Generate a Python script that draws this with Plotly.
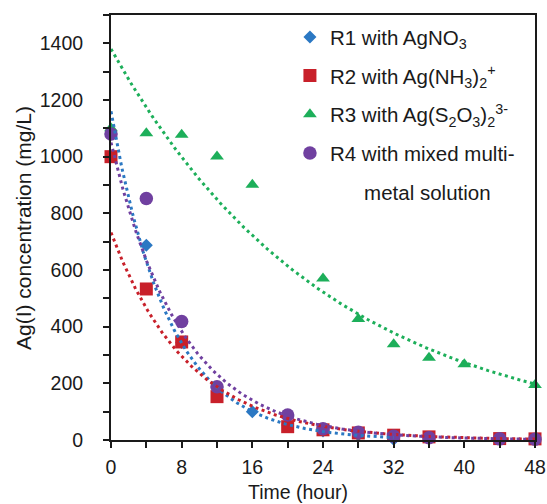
import numpy as np
import plotly.graph_objects as go

# ---- data ----
t_r1 = [0, 4, 8, 12, 16, 20, 24, 28, 32]
c_r1 = [1080, 687, 344, 185, 100, 53, 32, 18, 3]

t_r2 = [0, 4, 8, 12, 20, 24, 28, 32, 36, 44, 48]
c_r2 = [1000, 533, 346, 153, 47, 36, 25, 17, 11, 5, 4]

t_r3 = [0, 4, 8, 12, 16, 24, 28, 32, 36, 40, 48]
c_r3 = [1100, 1083, 1077, 1001, 901, 570, 427, 338, 290, 267, 194]

t_r4 = [0, 4, 8, 12, 20, 24, 28, 32, 36, 44, 48]
c_r4 = [1080, 852, 418, 188, 88, 40, 27, 13, 8, 4, 3]

series_names = [
    "R1 with AgNO<sub>3</sub>",
    "R2 with Ag(NH<sub>3</sub>)<sub>2</sub><sup>+</sup>",
    "R3 with Ag(S<sub>2</sub>O<sub>3</sub>)<sub>2</sub><sup>3-</sup>",
    "R4 with mixed multi-",
]
legend_cont = "\u00a0\u00a0\u00a0\u00a0\u00a0\u00a0metal solution"

# exponential trendline coefficients, y = a * exp(-k * t)
fit_a = [1160, 732, 1380, 1050]
fit_k = [0.153, 0.1135, 0.0405, 0.126]
fit_end = [32, 48, 48, 48]

x_ticks = [0, 8, 16, 24, 32, 40, 48]
x_minor = [4, 12, 20, 28, 36, 44]
y_ticks = [0, 200, 400, 600, 800, 1000, 1200, 1400]
y_minor = [100, 300, 500, 700, 900, 1100, 1300, 1500]

colors = ["#2B78C3", "#C8202A", "#1DAF5A", "#7040A0"]
symbols = ["diamond", "square", "triangle-up", "circle"]
sizes = [10, 13, 12, 13.5]

FONT = "Liberation Sans, Arial, sans-serif"
INK = "#1a1a1a"

fig = go.Figure()

ts = [t_r1, t_r2, t_r3, t_r4]
cs = [c_r1, c_r2, c_r3, c_r4]

for i in range(4):
    fig.add_trace(go.Scatter(
        x=ts[i], y=cs[i], mode="markers", name=series_names[i],
        legendgroup=f"g{i}",
        marker=dict(symbol=symbols[i], size=sizes[i], color=colors[i],
                    line=dict(width=0)),
        cliponaxis=False,
    ))

# legend continuation line for R4
fig.add_trace(go.Scatter(
    x=[None], y=[None], mode="markers", name=legend_cont, legendgroup="g4",
    marker=dict(size=1, color="rgba(0,0,0,0)"), hoverinfo="skip",
))

for i in range(4):
    tt = np.linspace(0, fit_end[i], 300)
    yy = fit_a[i] * np.exp(-fit_k[i] * tt)
    fig.add_trace(go.Scatter(
        x=tt, y=yy, mode="lines", showlegend=False, hoverinfo="skip",
        line=dict(color=colors[i], width=3, dash="3px,3.5px"),
    ))

tickfont = dict(size=19.5, family=FONT, color=INK)

fig.update_layout(
    width=547, height=504,
    margin=dict(l=111, r=12, t=15, b=64, autoexpand=False),
    paper_bgcolor="white", plot_bgcolor="white",
    font=dict(family=FONT, size=20, color=INK),
    legend=dict(
        x=0.422, y=0.995, xanchor="left", yanchor="top",
        bgcolor="rgba(0,0,0,0)", font=dict(size=20.5, family=FONT, color=INK),
        tracegroupgap=9, valign="middle",
    ),
    xaxis=dict(
        range=[0, 48], tickmode="array", tickvals=x_ticks,
        ticks="outside", ticklen=6, tickwidth=1.5, tickcolor=INK,
        showline=True, linewidth=2, linecolor=INK, mirror=True,
        showgrid=False, zeroline=False,
        minor=dict(tickvals=x_minor, ticks="outside",
                   ticklen=6, tickwidth=1.5, tickcolor=INK, showgrid=False),
        tickfont=tickfont, ticklabelstandoff=3,
    ),
    yaxis=dict(
        range=[0, 1500], tickmode="array", tickvals=y_ticks,
        ticks="outside", ticklen=6, tickwidth=1.5, tickcolor=INK,
        showline=True, linewidth=2, linecolor=INK, mirror=True,
        showgrid=False, zeroline=False,
        minor=dict(tickvals=y_minor, ticks="outside", ticklen=6,
                   tickwidth=1.5, tickcolor=INK, showgrid=False),
        tickfont=tickfont, ticklabelstandoff=16,
    ),
    annotations=[
        dict(text="Time (hour)", xref="paper", yref="paper",
             x=(298 - 111) / 424, y=(440 - 492) / 425,
             xanchor="center", yanchor="middle",
             showarrow=False, font=dict(size=19.5, family=FONT, color=INK)),
        dict(text="Ag(I) concentration (mg/L)", xref="paper", yref="paper",
             x=(23 - 111) / 424, y=(440 - 228) / 425,
             xanchor="center", yanchor="middle",
             textangle=-90, showarrow=False,
             font=dict(size=21, family=FONT, color=INK)),
    ],
)

fig.write_html("out.html",
               config={"displayModeBar": False},
               post_script="document.body.style.margin='0';document.body.style.overflow='hidden';")
